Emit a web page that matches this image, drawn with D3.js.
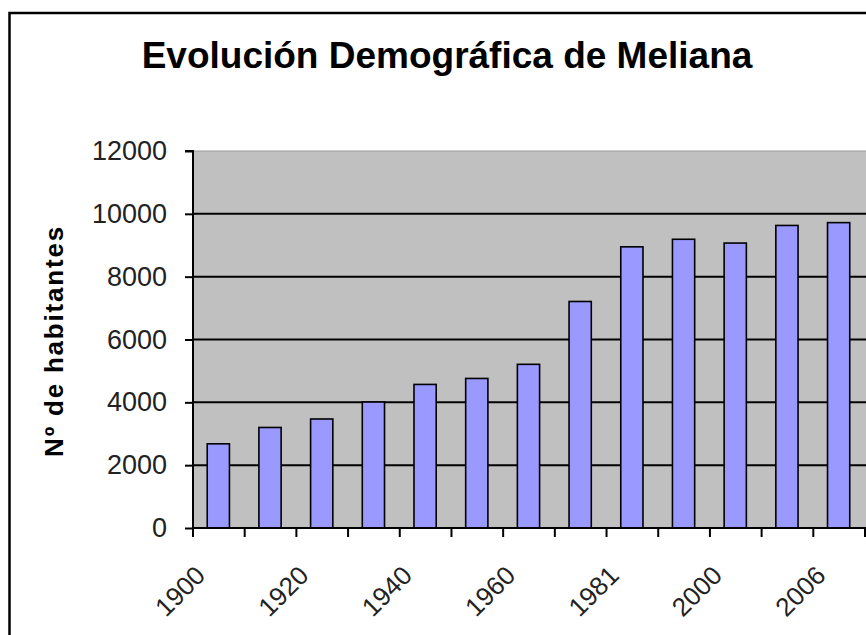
<!DOCTYPE html>
<html>
<head>
<meta charset="utf-8">
<script src="https://cdn.jsdelivr.net/npm/d3@7"></script>
<style>
  html, body { margin: 0; padding: 0; background: #ffffff; }
  svg { display: block; font-family: "Liberation Sans", Arial, sans-serif; }
</style>
</head>
<body>
<svg id="chart" width="866" height="635"></svg>
<script>
// ---- data ----
const categories = ["1900","1910","1920","1930","1940","1950","1960","1970","1981","1991","2000","2003","2006"];
const population = [2680, 3200, 3470, 4010, 4570, 4760, 5210, 7210, 8950, 9190, 9070, 9630, 9720];
const yTicks = [0, 2000, 4000, 6000, 8000, 10000, 12000];
const shownLabels = ["1900","1920","1940","1960","1981","2000","2006"];
const titleText = "Evolución Demográfica de Meliana";
const yTitleText = "Nº de habitantes";

// ---- layout ----
const W = 866, H = 635;
const plot = { left: 193, right: 865, top: 151, bottom: 528 };

const svg = d3.select("#chart");

// outer frame
svg.append("rect")
  .attr("x", 9.5).attr("y", 13)
  .attr("width", W + 20).attr("height", H + 20)
  .attr("fill", "#ffffff").attr("stroke", "#000").attr("stroke-width", 2.5);

// scales
const x = d3.scaleBand().domain(categories).range([plot.left, plot.right]).paddingInner(0).paddingOuter(0);
const y = d3.scaleLinear().domain([0, 12000]).range([plot.bottom, plot.top]);
const bw = x.bandwidth();

// plot area
svg.append("rect")
  .attr("x", plot.left).attr("y", y(12000))
  .attr("width", plot.right - plot.left + 2).attr("height", y(0) - y(12000))
  .attr("fill", "#c0c0c0").attr("stroke", "#9a9a9a").attr("stroke-width", 1);

// gridlines
svg.append("g").selectAll("line")
  .data(yTicks.filter(v => v > 0 && v < 12000))
  .join("line")
  .attr("x1", plot.left).attr("x2", W)
  .attr("y1", d => y(d)).attr("y2", d => y(d))
  .attr("stroke", "#000").attr("stroke-width", 2);

// bars
svg.append("g").selectAll("rect")
  .data(categories.map((c, i) => ({ c, v: population[i] })))
  .join("rect")
  .attr("x", d => x(d.c) + bw * 0.275)
  .attr("width", bw * 0.43)
  .attr("y", d => y(d.v))
  .attr("height", d => y(0) - y(d.v))
  .attr("fill", "#9999ff").attr("stroke", "#000").attr("stroke-width", 1.6);

// y axis
const yAxis = svg.append("g")
  .attr("transform", `translate(${plot.left},0)`)
  .call(d3.axisLeft(y).tickValues(yTicks).tickSize(8).tickPadding(18).tickFormat(d3.format("d")));
yAxis.select(".domain").attr("stroke", "#000").attr("stroke-width", 2).attr("d", `M-8,${y(12000)}H0V${y(0)}`);
yAxis.selectAll(".tick line").attr("stroke", "#000").attr("stroke-width", 2);
yAxis.selectAll(".tick text")
  .attr("font-size", 27).attr("fill", "#222")
  .attr("font-family", "'Liberation Sans', Arial, sans-serif");

// x axis line
svg.append("line")
  .attr("x1", plot.left - 1).attr("x2", W)
  .attr("y1", y(0)).attr("y2", y(0))
  .attr("stroke", "#000").attr("stroke-width", 2);

// x ticks at band boundaries
const boundaries = categories.map(c => x(c)).concat([plot.right]);
svg.append("g").selectAll("line")
  .data(boundaries)
  .join("line")
  .attr("x1", d => d).attr("x2", d => d)
  .attr("y1", y(0)).attr("y2", y(0) + 9)
  .attr("stroke", "#000").attr("stroke-width", 2);

// x labels
svg.append("g").selectAll("text")
  .data(categories.filter(c => shownLabels.includes(c)))
  .join("text")
  .attr("transform", d => `translate(${x(d) + bw / 2 - 12},${y(0) + 49}) rotate(-45)`)
  .attr("text-anchor", "end")
  .attr("font-size", 26).attr("fill", "#222")
  .text(d => d);

// title
svg.append("text")
  .attr("x", 447).attr("y", 68)
  .attr("text-anchor", "middle")
  .attr("font-size", 37).attr("font-weight", "bold").attr("fill", "#000")
  .text(titleText);

// y title
svg.append("text")
  .attr("transform", `translate(63,341) rotate(-90)`)
  .attr("text-anchor", "middle")
  .attr("font-size", 26).attr("font-weight", "bold").attr("fill", "#000")
  .attr("letter-spacing", 1.8)
  .text(yTitleText);
</script>
</body>
</html>
